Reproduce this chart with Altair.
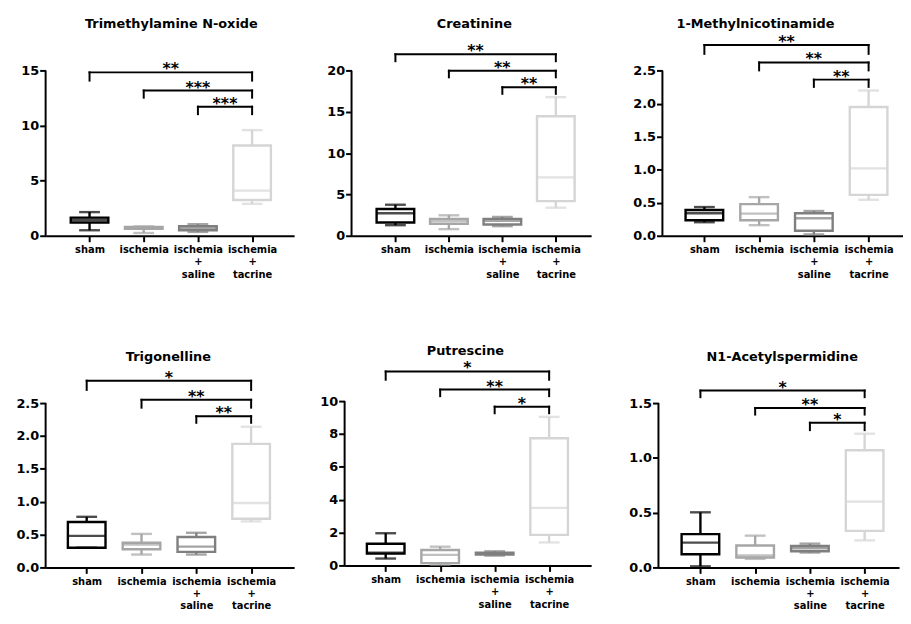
import altair as alt
import pandas as pd

# ---------------- data ----------------
groups = ["sham", "ischemia", "ischemia + saline", "ischemia + tacrine"]
group_index = [0, 1, 2, 3]
group_colors = ["#000000", "#a6a6a6", "#7f7f7f", "#d5d5d5"]

titles = ["Trimethylamine N-oxide", "Creatinine", "1-Methylnicotinamide",
          "Trigonelline", "Putrescine", "N1-Acetylspermidine"]

# Trimethylamine N-oxide
tmao_min = [0.5, 0.25, 0.35, 2.9]
tmao_q1 = [1.2, 0.62, 0.5, 3.25]
tmao_med = [1.45, 0.72, 0.68, 4.1]
tmao_q3 = [1.65, 0.8, 0.88, 8.2]
tmao_max = [2.15, 0.85, 1.05, 9.6]
tmao_ticks = [0, 5, 10, 15]
tmao_br_top = [14.85, 13.2, 11.73]
tmao_br_leg = [14.1, 12.55, 11.05]
tmao_stars = ["**", "***", "***"]

# Creatinine
crea_min = [1.28, 0.8, 1.16, 3.4]
crea_q1 = [1.6, 1.44, 1.36, 4.2]
crea_med = [2.72, 1.76, 1.8, 7.08]
crea_q3 = [3.24, 2.04, 2.04, 14.48]
crea_max = [3.76, 2.48, 2.28, 16.8]
crea_ticks = [0, 5, 10, 15, 20]
crea_br_top = [22.0, 20.0, 18.0]
crea_br_leg = [21.15, 19.2, 17.2]
crea_stars = ["**", "**", "**"]

# 1-Methylnicotinamide
mna_min = [0.205, 0.16, 0.02, 0.545]
mna_q1 = [0.235, 0.235, 0.075, 0.62]
mna_med = [0.34, 0.335, 0.265, 1.02]
mna_q3 = [0.39, 0.48, 0.34, 1.95]
mna_max = [0.435, 0.585, 0.375, 2.2]
mna_ticks = [0, 0.5, 1.0, 1.5, 2.0, 2.5]
mna_br_top = [2.89, 2.625, 2.365]
mna_br_leg = [2.755, 2.505, 2.255]
mna_stars = ["**", "**", "**"]

# Trigonelline
trig_min = [0.30, 0.196, 0.196, 0.70]
trig_q1 = [0.30, 0.276, 0.236, 0.74]
trig_med = [0.48, 0.346, 0.316, 0.98]
trig_q3 = [0.69, 0.376, 0.462, 1.88]
trig_max = [0.77, 0.51, 0.527, 2.14]
trig_ticks = [0, 0.5, 1.0, 1.5, 2.0, 2.5]
trig_br_top = [2.84, 2.55, 2.30]
trig_br_leg = [2.70, 2.43, 2.20]
trig_stars = ["*", "**", "**"]

# Putrescine
put_min = [0.42, 0.05, 0.6, 1.4]
put_q1 = [0.72, 0.14, 0.66, 1.86]
put_med = [0.78, 0.64, 0.72, 3.5]
put_q3 = [1.32, 0.94, 0.78, 7.74]
put_max = [1.96, 1.14, 0.86, 9.04]
put_ticks = [0, 2, 4, 6, 8, 10]
put_br_top = [11.8, 10.7, 9.66]
put_br_leg = [11.3, 10.3, 9.26]
put_stars = ["*", "**", "*"]

# N1-Acetylspermidine
acs_min = [0.01, 0.078, 0.136, 0.247]
acs_q1 = [0.12, 0.09, 0.148, 0.334]
acs_med = [0.226, 0.11, 0.175, 0.60]
acs_q3 = [0.304, 0.2, 0.196, 1.07]
acs_max = [0.503, 0.29, 0.217, 1.22]
acs_ticks = [0, 0.5, 1.0, 1.5]
acs_br_top = [1.614, 1.455, 1.32]
acs_br_leg = [1.554, 1.395, 1.253]
acs_stars = ["*", "**", "*"]

br_start = [0, 1, 2]
br_end = [3, 3, 3]

# ---------------- layout (positions / sizes only) ----------------
LAYOUT = [
    dict(W=251, H=200, xlo=-0.719, xhi=3.684, span=166.7, ext=34, tx=127, ty=-14, fmt="d"),
    dict(W=242, H=200, xlo=-0.728, xhi=3.568, span=166.7, ext=48, tx=124, ty=-14, fmt="d"),
    dict(W=243, H=200, xlo=-0.676, xhi=3.538, span=166.7, ext=62, tx=94, ty=-14, fmt=".1f"),
    dict(W=251, H=207, xlo=-0.659, xhi=3.694, span=166.0, ext=38, tx=124, ty=-6, fmt=".1f"),
    dict(W=249, H=205, xlo=-0.663, xhi=3.680, span=166.0, ext=41, tx=122, ty=-12, fmt="d"),
    dict(W=243, H=207, xlo=-0.676, xhi=3.538, span=166.0, ext=58, tx=125, ty=-6, fmt=".1f"),
]

FONT = "DejaVu Sans"
LW = 2.4

label_expr = "split([" + ",".join("'" + g + "'" for g in groups) + "][datum.value], ' ')"


def panel(title, mins, q1s, meds, q3s, maxs, ticks, tops, legs, stars, lay):
    W, H = lay["W"], lay["H"]
    ytop = H * ticks[-1] / lay["span"]
    box = pd.DataFrame({"group": groups, "idx": group_index, "min": mins,
                        "q1": q1s, "med": meds, "q3": q3s, "max": maxs})
    brk = pd.DataFrame({"start": br_start, "end": br_end, "top": tops,
                        "leg": legs, "stars": stars})
    axis_df = pd.DataFrame({"lo": [ticks[0]], "hi": [ticks[-1]]})
    ttl_df = pd.DataFrame({"t": [title]})

    xs = alt.Scale(domain=[lay["xlo"], lay["xhi"]], nice=False, zero=False)
    ys = alt.Scale(domain=[0, ytop], nice=False, zero=False)
    xaxis = alt.Axis(values=group_index, labelExpr=label_expr, title=None,
                     tickSize=6, tickWidth=2, domainWidth=2, labelFontSize=10,
                     labelLineHeight=12.5, labelPadding=3, labelAngle=0,
                     labelFlush=False, labelOverlap=False, grid=False)
    yaxis = alt.Axis(values=ticks, format=lay["fmt"], title=None, domain=False,
                     tickSize=6, tickWidth=2, labelFontSize=13, labelPadding=1,
                     minExtent=lay["ext"], labelFlush=False, labelOverlap=False,
                     grid=False)
    col = alt.Color("group:N", scale=alt.Scale(domain=groups, range=group_colors), legend=None)
    stk = alt.Stroke("group:N", scale=alt.Scale(domain=groups, range=group_colors), legend=None)

    def X(f):
        return alt.X(f, scale=xs, axis=xaxis)

    def Y(f):
        return alt.Y(f, scale=ys, axis=yaxis)

    base = alt.Chart(box)
    whisk = base.mark_rule(strokeWidth=LW).encode(x=X("idx:Q"), y=Y("min:Q"), y2="max:Q", color=col)
    bx = base.mark_bar(size=38, orient="vertical", fill="white", strokeWidth=LW).encode(
        x=X("idx:Q"), y=Y("q1:Q"), y2="q3:Q", stroke=stk)
    med = base.mark_tick(orient="horizontal", size=39, thickness=LW).encode(x=X("idx:Q"), y=Y("med:Q"), color=col)
    cap_lo = base.mark_tick(orient="horizontal", size=21, thickness=LW).encode(x=X("idx:Q"), y=Y("min:Q"), color=col)
    cap_hi = base.mark_tick(orient="horizontal", size=21, thickness=LW).encode(x=X("idx:Q"), y=Y("max:Q"), color=col)

    yline = alt.Chart(axis_df).mark_rule(color="black", strokeWidth=2).encode(
        x=alt.value(0), y=Y("lo:Q"), y2="hi:Q")

    bb = alt.Chart(brk)
    hbar = bb.mark_rule(color="black", strokeWidth=2, strokeCap="square").encode(
        x=X("start:Q"), x2="end:Q", y=Y("top:Q"))
    legs_l = bb.transform_fold(["start", "end"], as_=["side", "pos"]).mark_rule(
        color="black", strokeWidth=2, strokeCap="square").encode(
        x=X("pos:Q"), y=Y("leg:Q"), y2="top:Q")
    txt = bb.transform_calculate(mid="(datum.start + datum.end) / 2").mark_text(
        font=FONT, fontWeight="bold", fontSize=16, baseline="alphabetic", dy=2,
        color="black").encode(x=X("mid:Q"), y=Y("top:Q"), text="stars:N")

    ttl = alt.Chart(ttl_df).mark_text(font=FONT, fontWeight="bold", fontSize=13,
                                      baseline="middle", align="center", color="black").encode(
        x=alt.value(lay["tx"]), y=alt.value(lay["ty"]), text="t:N")

    return alt.layer(whisk, bx, med, cap_lo, cap_hi, yline, hbar, legs_l, txt, ttl).properties(
        width=W, height=H)


p1 = panel(titles[0], tmao_min, tmao_q1, tmao_med, tmao_q3, tmao_max, tmao_ticks,
           tmao_br_top, tmao_br_leg, tmao_stars, LAYOUT[0])
p2 = panel(titles[1], crea_min, crea_q1, crea_med, crea_q3, crea_max, crea_ticks,
           crea_br_top, crea_br_leg, crea_stars, LAYOUT[1])
p3 = panel(titles[2], mna_min, mna_q1, mna_med, mna_q3, mna_max, mna_ticks,
           mna_br_top, mna_br_leg, mna_stars, LAYOUT[2])
p4 = panel(titles[3], trig_min, trig_q1, trig_med, trig_q3, trig_max, trig_ticks,
           trig_br_top, trig_br_leg, trig_stars, LAYOUT[3])
p5 = panel(titles[4], put_min, put_q1, put_med, put_q3, put_max, put_ticks,
           put_br_top, put_br_leg, put_stars, LAYOUT[4])
p6 = panel(titles[5], acs_min, acs_q1, acs_med, acs_q3, acs_max, acs_ticks,
           acs_br_top, acs_br_leg, acs_stars, LAYOUT[5])

row1 = alt.hconcat(p1, p2, p3, spacing=10)
row2 = alt.hconcat(p4, p5, p6, spacing=10)

chart = alt.vconcat(row1, row2, spacing=66).properties(
    padding={"left": 0, "top": 7, "right": 0, "bottom": 0},
    background="white",
).configure_view(stroke=None).configure_axis(
    labelFont=FONT, labelFontWeight="bold", labelColor="black",
    domainColor="black", tickColor="black", grid=False,
)

chart.save("out.html", embed_options={"renderer": "svg", "actions": False})
